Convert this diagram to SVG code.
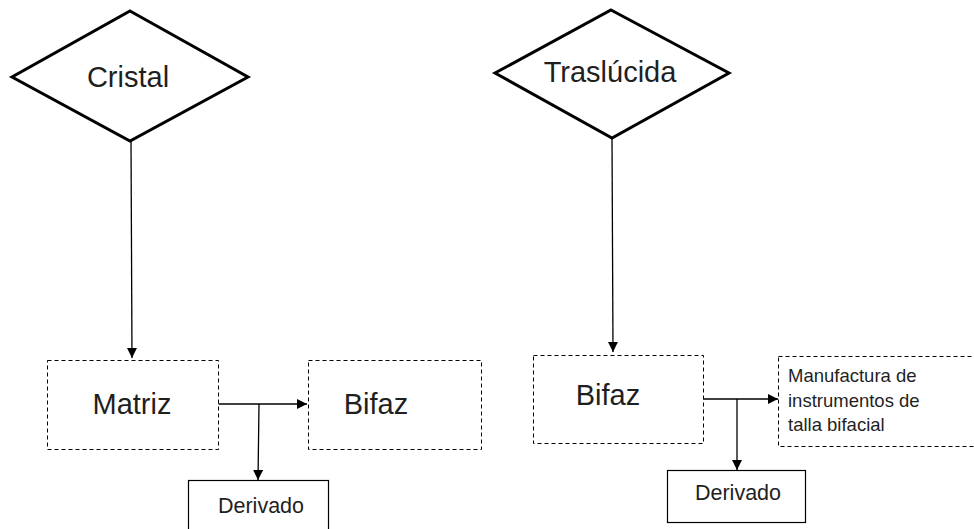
<svg xmlns="http://www.w3.org/2000/svg" width="974" height="529" viewBox="0 0 974 529">
  <style>
    .diamond { fill: #ffffff; stroke: #000000; stroke-width: 3; stroke-linejoin: miter; }
    .dashed { fill: #ffffff; stroke: #000000; stroke-width: 1; stroke-dasharray: 4 3; }
    .solid { fill: #ffffff; stroke: #000000; stroke-width: 1.2; }
    .edge { fill: none; stroke: #000000; stroke-width: 1.3; }
    .big { font-family: "Liberation Sans", Arial, sans-serif; font-size: 29px; fill: #1f1f1f; text-anchor: middle; }
    .mid { font-family: "Liberation Sans", Arial, sans-serif; font-size: 21.5px; fill: #1f1f1f; text-anchor: middle; }
    .small { font-family: "Liberation Sans", Arial, sans-serif; font-size: 18.5px; fill: #1f1f1f; }
  </style>
  <defs>
    <marker id="arrow" viewBox="0 0 10 10" refX="10" refY="5" markerWidth="10" markerHeight="10" markerUnits="userSpaceOnUse" orient="auto">
      <path d="M0,0 L10,5 L0,10 Z" fill="#000000"/>
    </marker>
  </defs>

  <rect width="974" height="529" fill="#ffffff"/>

  <!-- connectors -->
  <g id="connectors">
    <line class="edge" x1="131" y1="141" x2="132" y2="358" marker-end="url(#arrow)"/>
    <line class="edge" x1="218" y1="404" x2="307" y2="404" marker-end="url(#arrow)"/>
    <line class="edge" x1="259" y1="404" x2="258" y2="480" marker-end="url(#arrow)"/>
    <line class="edge" x1="612" y1="138" x2="613" y2="352" marker-end="url(#arrow)"/>
    <line class="edge" x1="703" y1="399" x2="778" y2="399" marker-end="url(#arrow)"/>
    <line class="edge" x1="737" y1="399" x2="737" y2="470" marker-end="url(#arrow)"/>
  </g>

  <!-- left column -->
  <g id="cristal">
    <polygon class="diamond" points="130,11 248,77 130,141 12,77"/>
    <text class="big" x="128" y="87">Cristal</text>
  </g>
  <g id="matriz">
    <rect class="dashed" x="47.5" y="360.5" width="171" height="89"/>
    <text class="big" x="132" y="414">Matriz</text>
  </g>
  <g id="bifaz-left">
    <rect class="dashed" x="308.5" y="360.5" width="173" height="89"/>
    <text class="big" x="376" y="414">Bifaz</text>
  </g>
  <g id="derivado-left">
    <rect class="solid" x="188.5" y="480.5" width="140" height="60"/>
    <text class="mid" x="261" y="513">Derivado</text>
  </g>

  <!-- right column -->
  <g id="traslucida">
    <polygon class="diamond" points="611,10 729,73 612,138 495,73"/>
    <text class="big" x="610" y="82">Traslúcida</text>
  </g>
  <g id="bifaz-right">
    <rect class="dashed" x="533.5" y="355.5" width="170" height="88"/>
    <text class="big" x="608" y="405">Bifaz</text>
  </g>
  <g id="manufactura">
    <rect class="dashed" x="778.5" y="356.5" width="210" height="90"/>
    <text class="small" x="788" y="382">Manufactura de</text>
    <text class="small" x="788" y="407">instrumentos de</text>
    <text class="small" x="788" y="431">talla bifacial</text>
  </g>
  <g id="derivado-right">
    <rect class="solid" x="667.5" y="470.5" width="138" height="52"/>
    <text class="mid" x="738" y="500">Derivado</text>
  </g>
</svg>
